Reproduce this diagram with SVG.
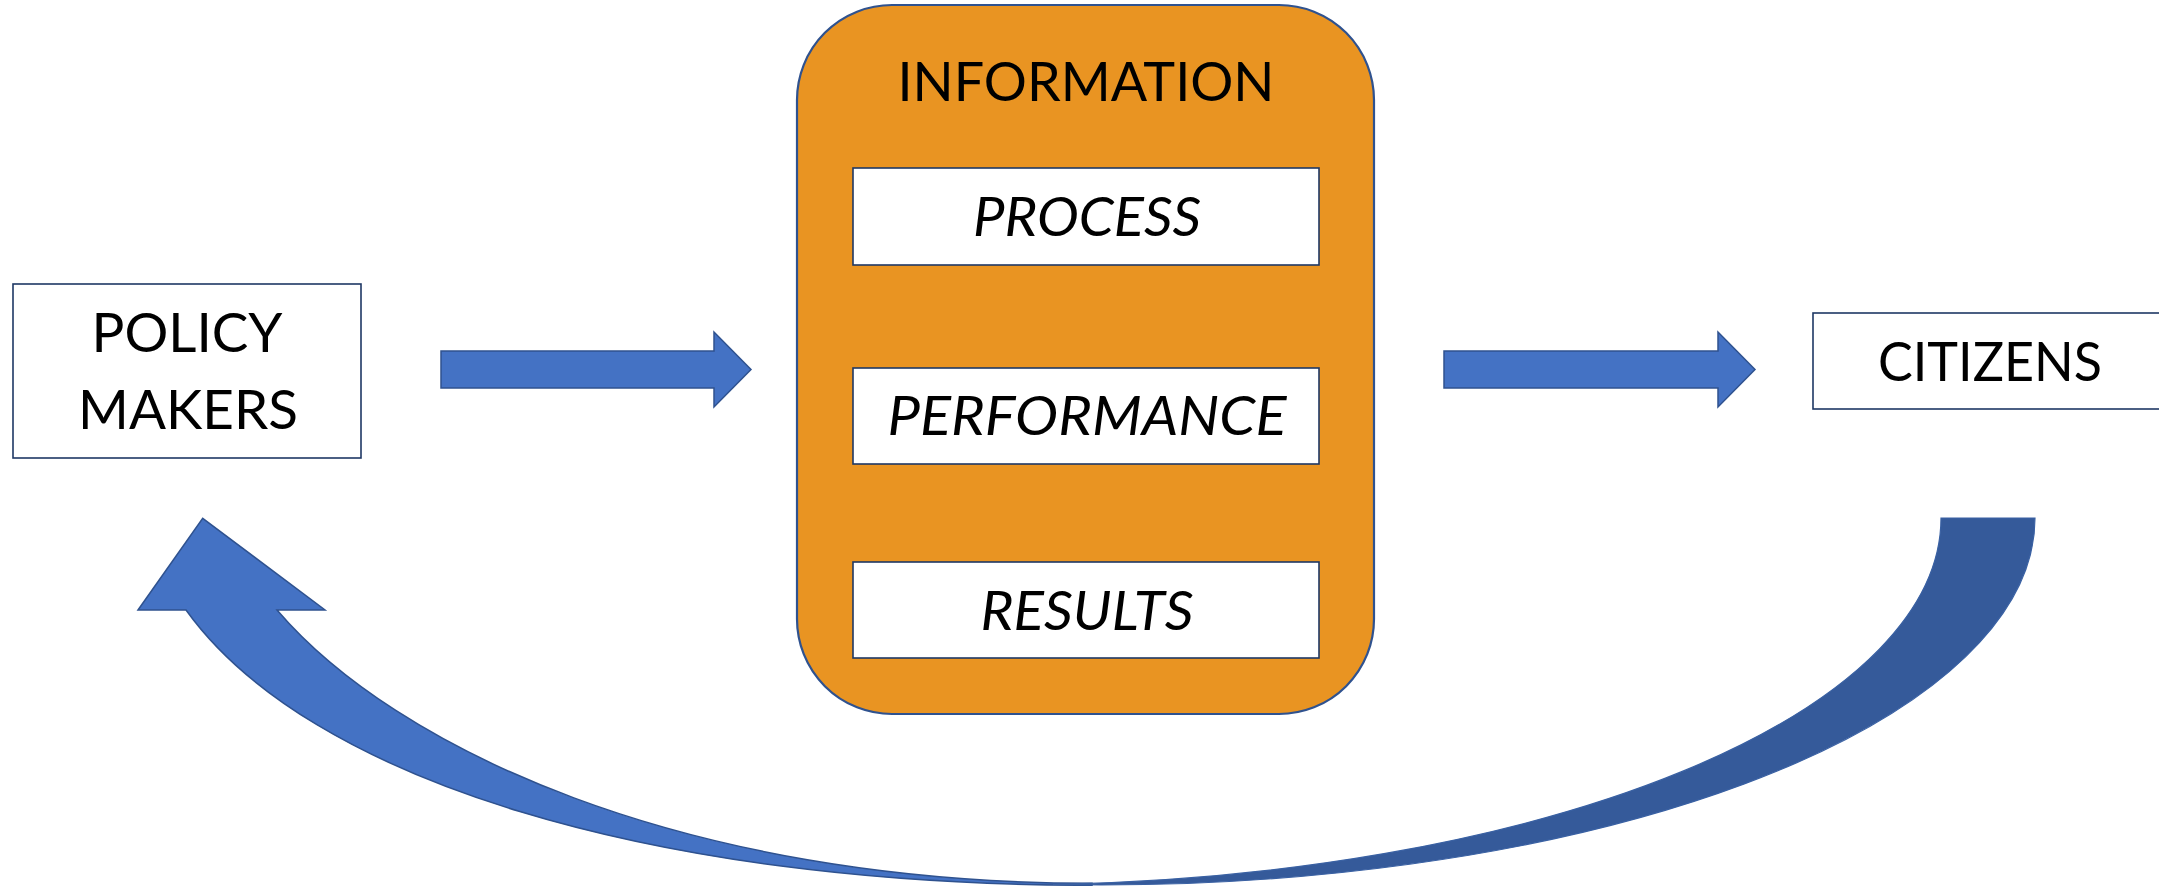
<svg xmlns="http://www.w3.org/2000/svg" width="2159" height="886" viewBox="0 0 2159 886">
<style>
.box{fill:#ffffff;stroke:#1F3864;stroke-width:1.6}
.lbl{font-family:Lato,"Open Sans","Liberation Sans",sans-serif;font-size:55px;fill:#000000;text-anchor:middle}
.it{font-style:italic}
.arrow{fill:#4472C4;stroke:#2F528F;stroke-width:1.5;stroke-linejoin:miter}
</style>
<rect width="2159" height="886" fill="#ffffff"/>
<g id="policy-makers">
<rect class="box" x="13" y="284" width="348" height="174"/>
<text class="lbl" x="187" y="352" textLength="191" lengthAdjust="spacingAndGlyphs">POLICY</text>
<text class="lbl" x="188" y="429" textLength="220" lengthAdjust="spacingAndGlyphs">MAKERS</text>
</g>
<g id="information">
<rect x="797" y="5" width="577" height="709" rx="95" ry="95" fill="#E99422" stroke="#2F528F" stroke-width="2.2"/>
<text class="lbl" x="1086" y="101" textLength="377" lengthAdjust="spacingAndGlyphs">INFORMATION</text>
</g>
<g id="process">
<rect class="box" x="853" y="168" width="466" height="97"/>
<text class="lbl it" x="1087" y="236" textLength="228" lengthAdjust="spacingAndGlyphs">PROCESS</text>
</g>
<g id="performance">
<rect class="box" x="853" y="368" width="466" height="96"/>
<text class="lbl it" x="1087" y="435" textLength="399" lengthAdjust="spacingAndGlyphs">PERFORMANCE</text>
</g>
<g id="results">
<rect class="box" x="853" y="562" width="466" height="96"/>
<text class="lbl it" x="1087" y="630" textLength="213" lengthAdjust="spacingAndGlyphs">RESULTS</text>
</g>
<g id="citizens">
<rect class="box" x="1813" y="313" width="360" height="96"/>
<text class="lbl" x="1990" y="381" textLength="224" lengthAdjust="spacingAndGlyphs">CITIZENS</text>
</g>
<g id="connectors">
<path class="arrow" d="M441,351 L714,351 L714,332 L751,369.5 L714,407 L714,388 L441,388 Z"/>
<path class="arrow" d="M1444,351 L1718,351 L1718,332 L1755,369.5 L1718,407 L1718,388 L1444,388 Z"/>
<path class="arrow" d="M138,610 L202.7,518.3 L325,610 L277,610 C394,747 680,883 1092,883.3 L1092,885.3 C650,885 308,780 186,610 Z"/>
<path d="M2035,518 A935,367 0 0 1 1053,884.5 A935,367 0 0 0 1941,518 Z" fill="#355A9A" stroke="#3A61A3" stroke-width="1.2"/>
</g>
</svg>
